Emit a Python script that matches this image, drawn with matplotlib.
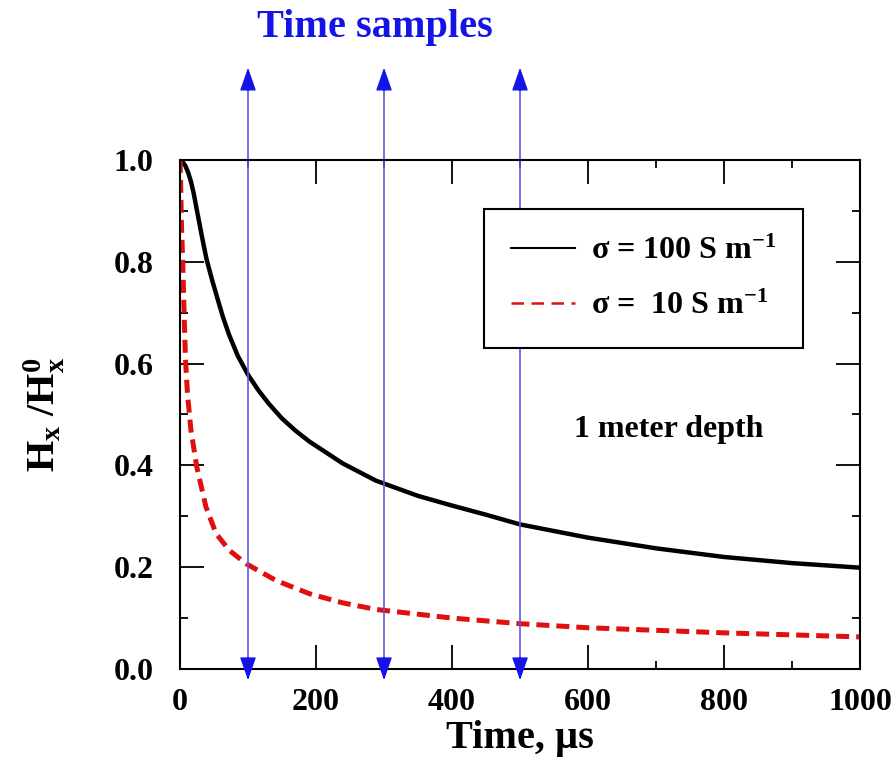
import matplotlib
matplotlib.use('Agg')
import matplotlib.pyplot as plt
from matplotlib.ticker import MultipleLocator

# ---- data ----
t_100 = [0, 4, 8, 12, 16, 20, 26, 32, 39, 47, 55, 63, 72, 85, 100, 115, 130, 150, 170, 190, 239, 288,
         350, 400, 450, 500, 600, 700, 800, 900, 1000]
h_100 = [1.0, 0.996, 0.988, 0.975, 0.958, 0.935, 0.893, 0.851, 0.805, 0.765, 0.728, 0.692, 0.657, 0.615,
         0.578, 0.548, 0.522, 0.492, 0.468, 0.447, 0.404, 0.370, 0.340, 0.321, 0.303, 0.284, 0.258,
         0.237, 0.220, 0.208, 0.199]

t_10 = [0, 1, 2, 4, 6, 8, 11, 16, 24.5, 38, 53, 72.5, 97, 141, 190, 239, 288, 400, 500, 600, 800, 1000]
h_10 = [1.0, 0.95, 0.88, 0.80, 0.70, 0.61, 0.54, 0.47, 0.398, 0.319, 0.266, 0.233, 0.207, 0.174, 0.148,
        0.130, 0.117, 0.100, 0.089, 0.081, 0.071, 0.063]

sample_times = [100, 300, 500]

plt.rcParams['font.family'] = 'Liberation Serif'
plt.rcParams['font.weight'] = 'bold'
plt.rcParams['mathtext.fontset'] = 'custom'
plt.rcParams['mathtext.rm'] = 'Liberation Serif:bold'
plt.rcParams['mathtext.it'] = 'Liberation Serif:bold'
plt.rcParams['mathtext.bf'] = 'Liberation Serif:bold'

fig = plt.figure(figsize=(8.96, 7.61), dpi=100)
ax = fig.add_axes([0.2009, 0.1209, 0.759, 0.669])

ax.plot(t_100, h_100, color='black', lw=3.2, label=r'$\sigma$ = 100 S m$^{-1}$')
ax.plot(t_10, h_10, color='#e01010', lw=3.6, ls=(0, (2.6, 1.4)), label=r'$\sigma$ =  10 S m$^{-1}$')

# time sample arrows (thin line + solid heads)
trans = ax.get_xaxis_transform()
for ts in sample_times:
    ax.plot([ts, ts], [-0.01, 1.17], transform=trans, clip_on=False, color='#5a5ae0', lw=1.2)
    for y_tip, y_from in [(1.181, 1.136), (-0.022, 0.023)]:
        ax.annotate('', xy=(ts, y_tip), xytext=(ts, y_from), xycoords=trans, textcoords=trans,
                    annotation_clip=False,
                    arrowprops=dict(arrowstyle='-|>,head_length=0.8,head_width=0.28', mutation_scale=18,
                                    color='#1414e6', lw=1.0, shrinkA=0, shrinkB=0))

ax.set_xlim(0, 1000)
ax.set_ylim(0, 1.0)
ax.xaxis.set_major_locator(MultipleLocator(200))
ax.xaxis.set_minor_locator(MultipleLocator(100))
ax.yaxis.set_major_locator(MultipleLocator(0.2))
ax.yaxis.set_minor_locator(MultipleLocator(0.1))
ax.yaxis.set_major_formatter(plt.FormatStrFormatter('%.1f'))
ax.tick_params(which='both', direction='in', top=True, right=True, labelsize=23, width=1.3)
ax.tick_params(which='major', length=17)
ax.tick_params(which='minor', length=6)
ax.tick_params(axis='x', pad=14)
ax.tick_params(axis='y', pad=19)
for s in ax.spines.values():
    s.set_linewidth(1.5)

ax.set_xlabel('Time, \u00b5s', fontsize=29, fontweight='bold', va='top')
ax.set_ylabel(r'H$_{\mathbf{x}}$ /H$_{\mathbf{x}}^{\mathbf{0}}$', fontsize=29, fontweight='bold',
              va='center')
ax.xaxis.set_label_coords(0.5, -0.1)
ax.yaxis.set_label_coords(-0.2, 0.5)

leg = ax.legend(loc='upper right', bbox_to_anchor=(0.916, 0.903), fontsize=23, fancybox=False,
                edgecolor='black', framealpha=1, handlelength=2.0, handletextpad=0.5,
                borderpad=0.85, labelspacing=0.8, borderaxespad=0)
leg.get_frame().set_linewidth(1.5)
leg_lines = leg.get_lines()
leg_lines[0].set_linewidth(1.5)
leg_lines[1].set_linewidth(1.8)
leg_lines[1].set_linestyle((0, (5, 3)))

ax.text(0.718, 0.471, '1 meter depth', transform=ax.transAxes, fontsize=23, fontweight='bold',
        ha='center', va='center')

fig.text(375 / 896, 1 - 28 / 761, 'Time samples', color='#1414e6', fontsize=29, fontweight='bold',
         ha='center', va='center')

fig.savefig('out.png', dpi=100)
